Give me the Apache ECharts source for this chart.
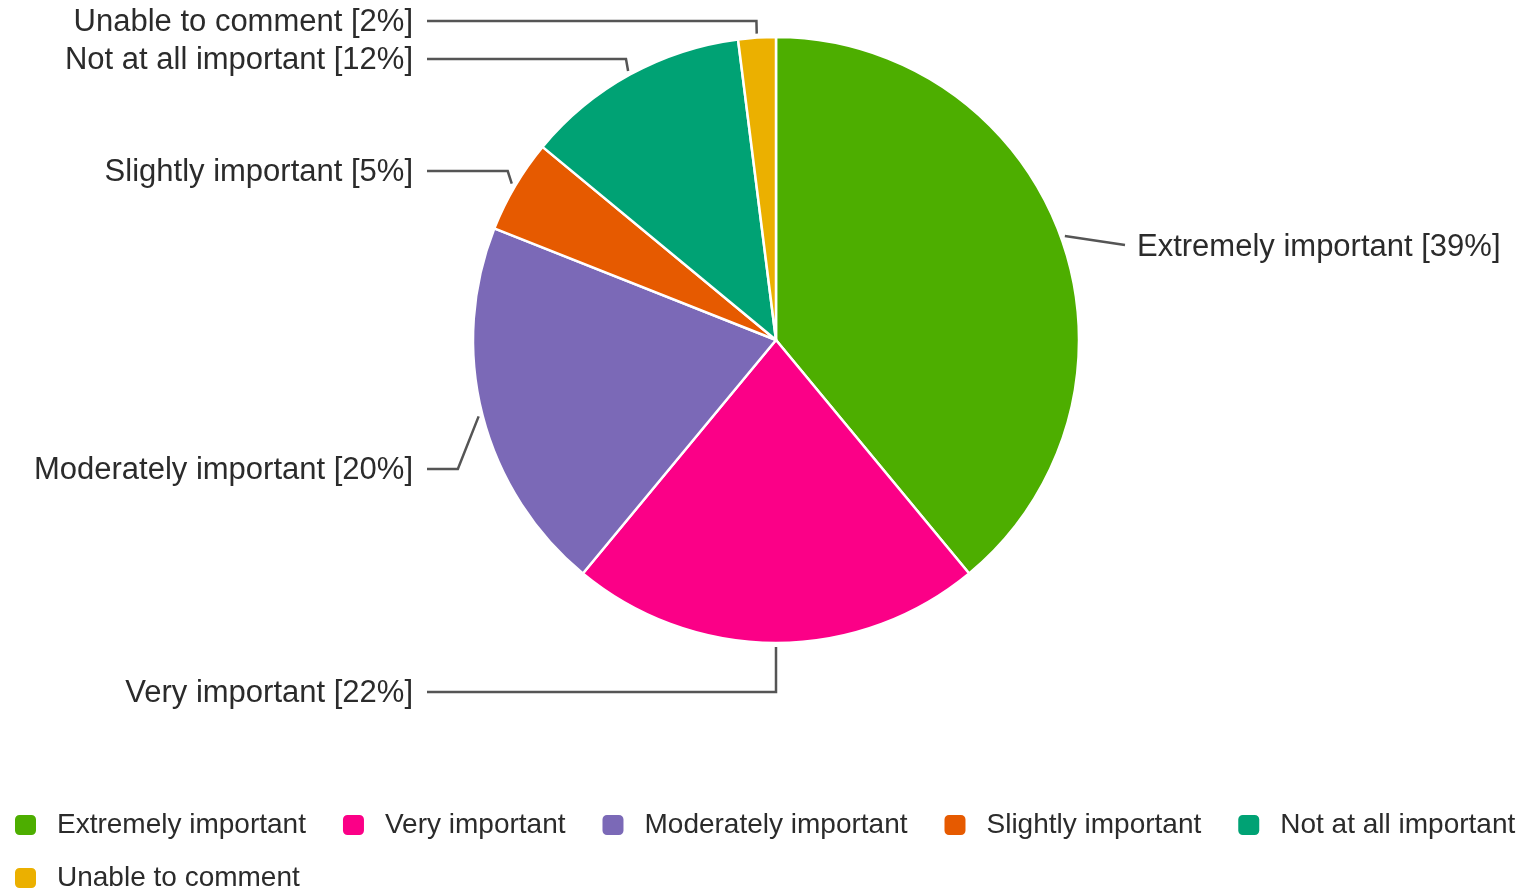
<!DOCTYPE html>
<html>
<head>
<meta charset="utf-8">
<script src="https://cdn.jsdelivr.net/npm/echarts@6/dist/echarts.min.js"></script>
<style>
  html, body { margin: 0; padding: 0; background: #fff; }
  #main { width: 1519px; height: 892px; }
</style>
</head>
<body>
<div id="main"></div>
<script>
// answer categories, clockwise from the top
var categories = ['Extremely important', 'Very important', 'Moderately important',
  'Slightly important', 'Not at all important', 'Unable to comment'];
var percents = [39, 22, 20, 5, 12, 2];
var colors = ['#4dae00', '#fb0087', '#7b69b7', '#e65a00', '#00a274', '#ebb000'];

// where each label sits vertically (pixel centre of the text)
var labelY = [247, 693, 470, 172, 60, 22];

var center = [776, 340];
var radius = 303;

var chart = echarts.init(document.getElementById('main'));

var total = percents.reduce(function (a, b) { return a + b; }, 0);

// mid angle of each slice, measured clockwise from 12 o'clock
function midAngle(i) {
  var before = 0;
  for (var k = 0; k < i; k++) before += percents[k];
  return (before + percents[i] / 2) / total * Math.PI * 2;
}

var legendBase = {
  left: 13,
  width: 1506,
  padding: 0,
  itemWidth: 23,
  itemHeight: 22,
  itemGap: 35,
  icon: 'roundRect',
  selectedMode: false,
  textStyle: { fontSize: 28, color: '#2b2b2b', padding: [0, 0, 0, 15] }
};

var option = {
  color: colors,
  textStyle: { fontFamily: 'Liberation Sans, Arial, sans-serif' },
  legend: [
    echarts.util.extend({ top: 811, data: categories.slice(0, 5) }, legendBase),
    echarts.util.extend({ top: 864, data: categories.slice(5) }, legendBase)
  ],
  series: [{
    type: 'pie',
    center: center,
    radius: radius,
    startAngle: 90,
    clockwise: true,
    avoidLabelOverlap: false,
    animation: false,
    itemStyle: { borderColor: '#fff', borderWidth: 2.5 },
    label: {
      show: true,
      formatter: '{b} [{c}%]',
      fontSize: 31,
      color: '#2b2b2b'
    },
    labelLine: {
      show: true,
      lineStyle: { color: '#555', width: 2.5 }
    },
    emphasis: { disabled: true },
    labelLayout: function (p) {
      var i = p.dataIndex;
      var a = midAngle(i);
      var ux = Math.sin(a), uy = -Math.cos(a);
      var sx = center[0] + ux * (radius + 4);
      var sy = center[1] + uy * (radius + 4);
      var ly = labelY[i];
      if (ux > 0.3) {
        return {
          x: 1137, y: ly, align: 'left', verticalAlign: 'middle',
          labelLinePoints: [[sx, sy], [1125, ly - 2]]
        };
      }
      var bx = sx + ux * Math.abs(ly - sy) * 0.4;
      return {
        x: 413, y: ly, align: 'right', verticalAlign: 'middle',
        labelLinePoints: [[sx, sy], [bx, ly - 1], [427, ly - 1]]
      };
    },
    data: categories.map(function (name, i) {
      return { name: name, value: percents[i] };
    })
  }]
};
chart.setOption(option);
</script>
</body>
</html>
